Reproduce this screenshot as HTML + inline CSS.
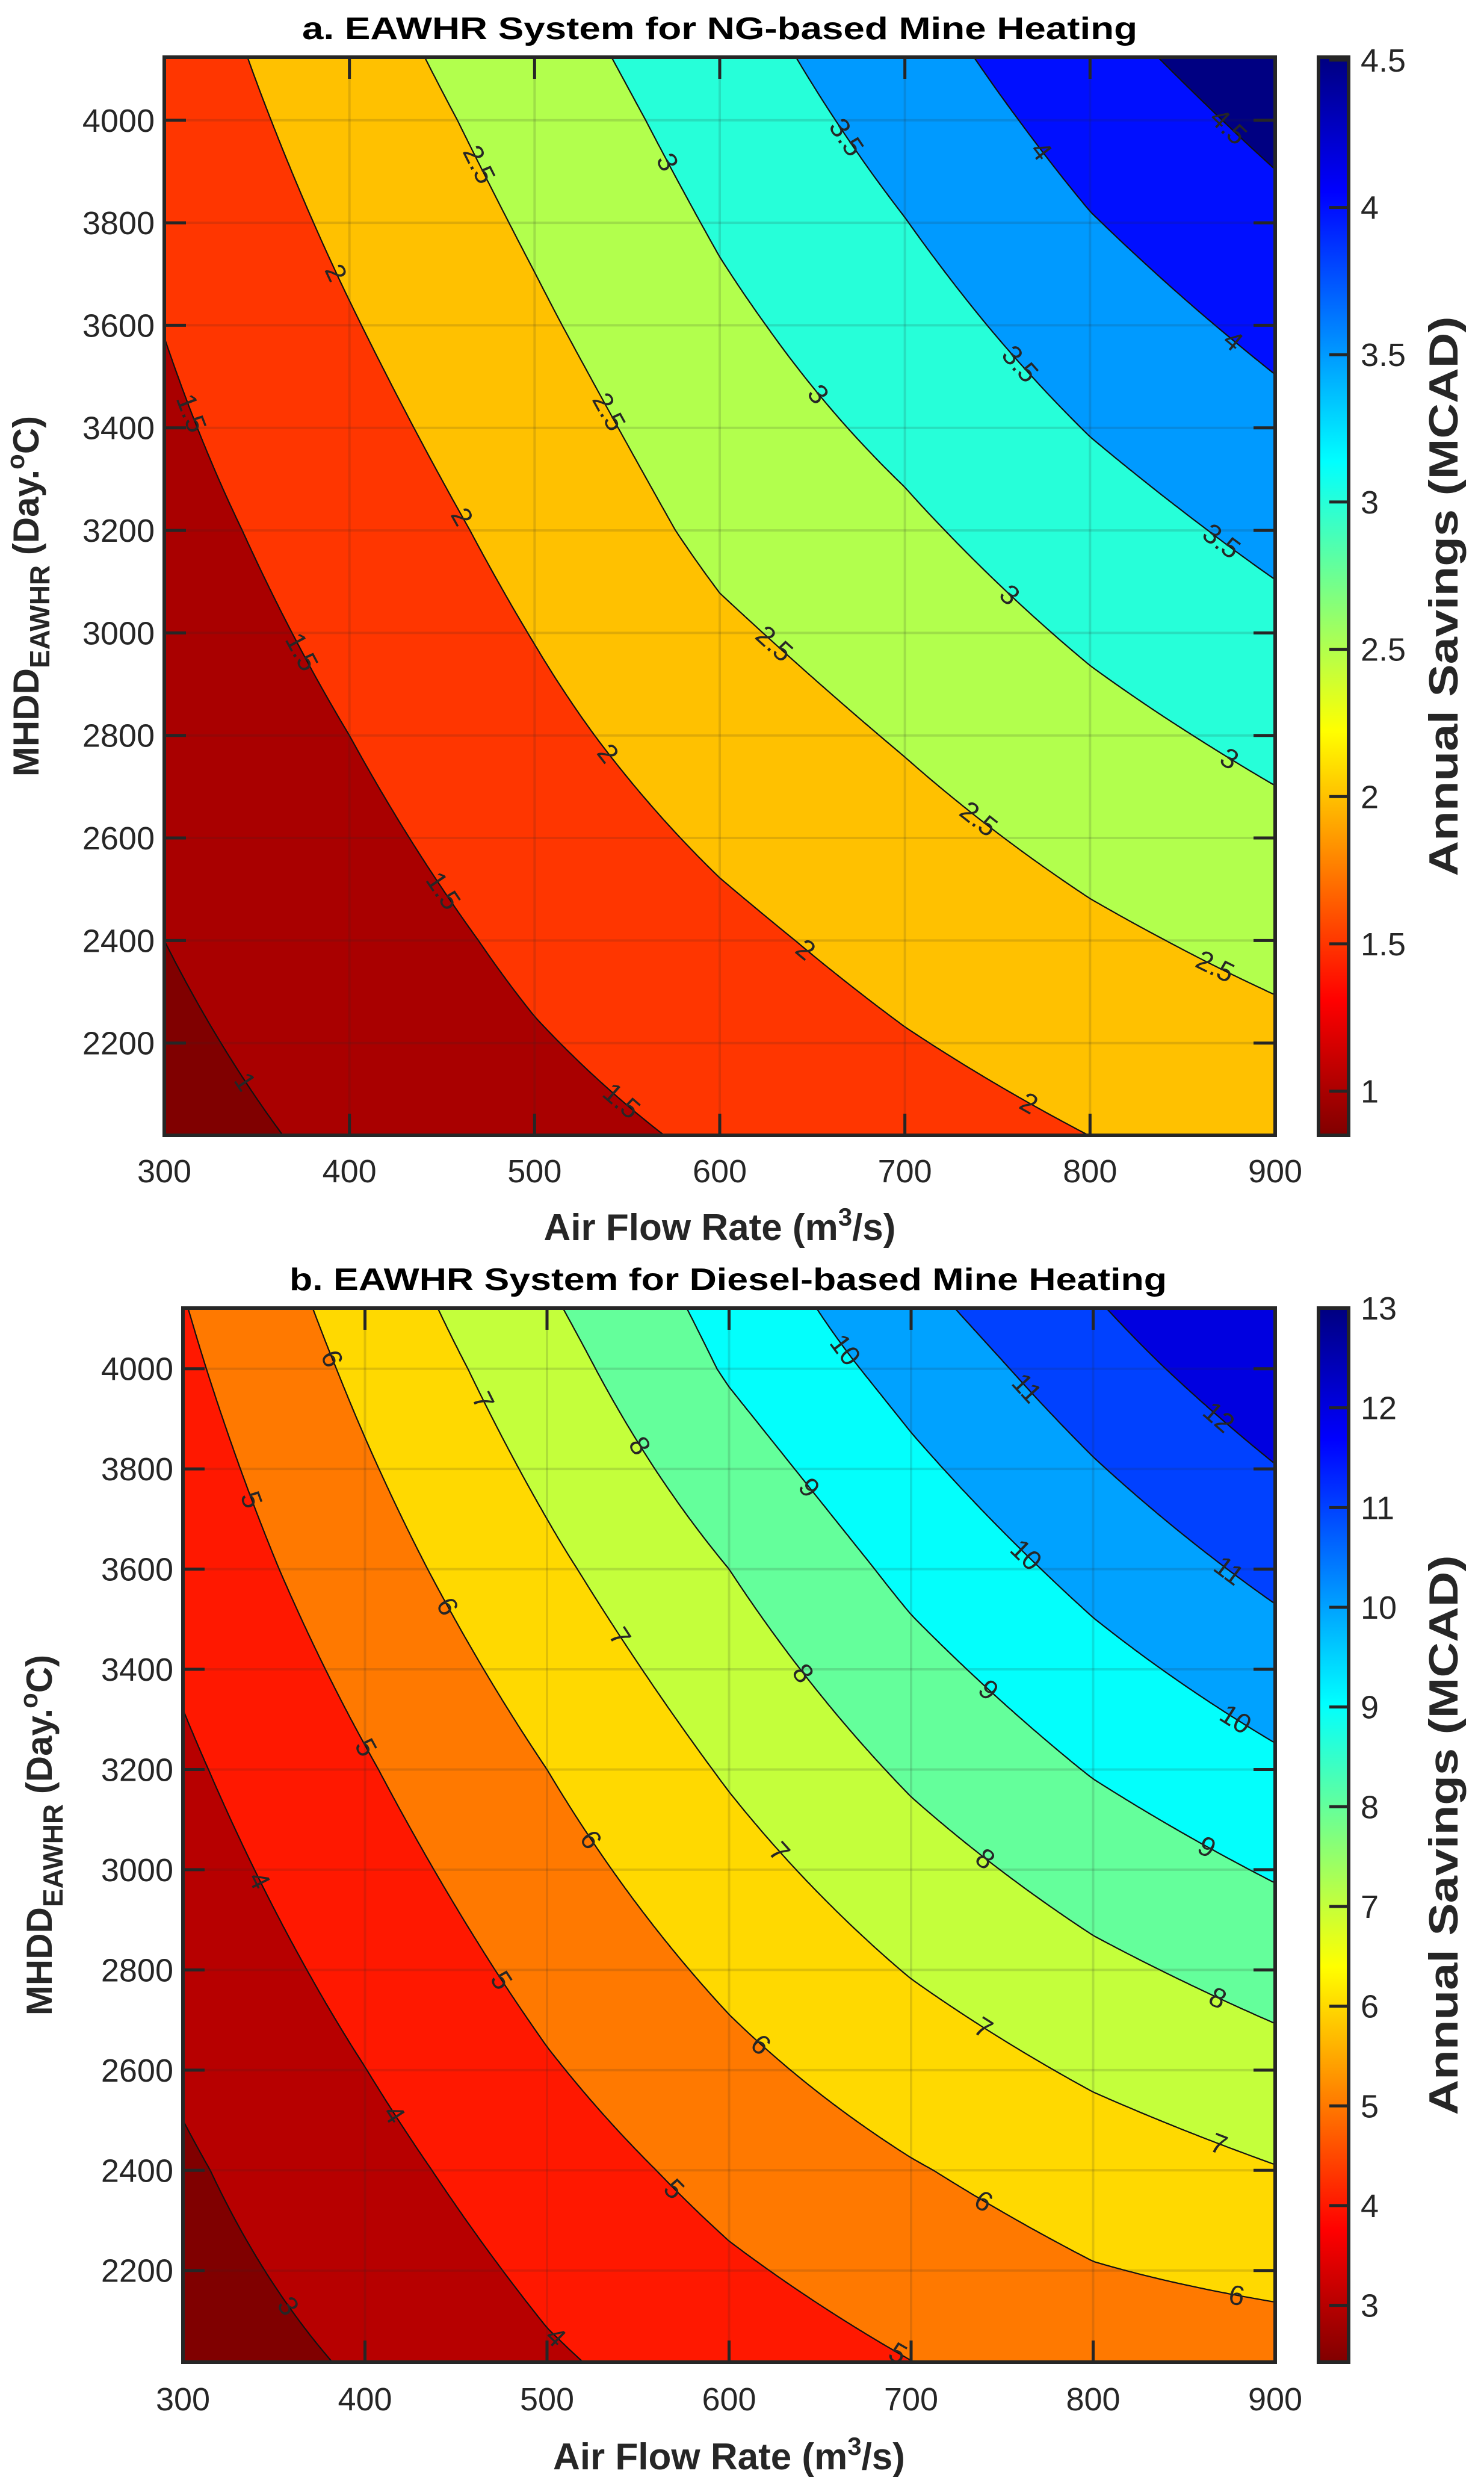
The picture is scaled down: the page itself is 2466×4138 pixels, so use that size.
<!DOCTYPE html>
<html><head><meta charset="utf-8">
<style>
html,body{margin:0;padding:0;background:#fff;}
body{width:2466px;height:4138px;position:relative;overflow:hidden;font-family:"Liberation Sans",Arial,sans-serif;}
canvas{position:absolute;}
#ov{position:absolute;left:0;top:0;}
</style></head>
<body>
<canvas id="cA"></canvas>
<canvas id="cB"></canvas>
<svg id="ov" width="2466" height="4138" xmlns="http://www.w3.org/2000/svg">
<defs>
<linearGradient id="jetr" x1="0" y1="0" x2="0" y2="1">
<stop offset="0" stop-color="rgb(0,0,128)"/><stop offset="0.125" stop-color="rgb(0,0,255)"/>
<stop offset="0.375" stop-color="rgb(0,255,255)"/><stop offset="0.625" stop-color="rgb(255,255,0)"/>
<stop offset="0.875" stop-color="rgb(255,0,0)"/><stop offset="1" stop-color="rgb(128,0,0)"/>
</linearGradient>
</defs>
<text x="1196" y="65" text-anchor="middle" font-size="52" font-weight="bold" fill="#000" textLength="1388" lengthAdjust="spacingAndGlyphs">a. EAWHR System for NG-based Mine Heating</text>
<text x="1210" y="2143" text-anchor="middle" font-size="52" font-weight="bold" fill="#000" textLength="1458" lengthAdjust="spacingAndGlyphs">b. EAWHR System for Diesel-based Mine Heating</text>
<g id="gA"></g>
<g id="gB"></g>
</svg>
<script>
// ---------- data ----------
const flowRates = [300, 400, 500, 600, 700, 800, 900];
const mhddValues = [2000, 2400, 2800, 3200, 3600, 4000, 4200];
const savingsNG = [
  [0.85, 1.07, 1.33, 1.55, 1.78, 1.98, 2.14],
  [1.00, 1.27, 1.60, 1.89, 2.16, 2.41, 2.63],
  [1.17, 1.50, 1.88, 2.25, 2.54, 2.85, 3.12],
  [1.34, 1.72, 2.15, 2.61, 2.92, 3.29, 3.62],
  [1.51, 1.97, 2.43, 2.90, 3.30, 3.75, 4.12],
  [1.70, 2.22, 2.70, 3.20, 3.68, 4.20, 4.62],
  [1.79, 2.35, 2.85, 3.35, 3.87, 4.43, 4.87]
];
const savingsDiesel = [
  [2.50, 3.08, 3.85, 4.45, 4.95, 5.40, 5.50],
  [2.88, 3.68, 4.55, 5.30, 5.93, 6.50, 6.96],
  [3.36, 4.30, 5.28, 6.20, 7.05, 7.78, 8.38],
  [3.85, 4.92, 6.00, 7.10, 8.15, 9.06, 9.81],
  [4.35, 5.58, 6.80, 8.00, 9.25, 10.30, 11.25],
  [4.82, 6.22, 7.60, 9.10, 10.35, 11.55, 12.68],
  [5.05, 6.55, 8.05, 9.50, 10.95, 12.15, 13.40]
];
const levelsNG = [1, 1.5, 2, 2.5, 3, 3.5, 4, 4.5];
const levelsDiesel = [3, 4, 5, 6, 7, 8, 9, 10, 11, 12];
const xTickLabels = ["300", "400", "500", "600", "700", "800", "900"];
const yTickLabels = ["2200", "2400", "2600", "2800", "3000", "3200", "3400", "3600", "3800", "4000"];
const cbarTicksNG = ["1", "1.5", "2", "2.5", "3", "3.5", "4", "4.5"];
const cbarTicksDiesel = ["3", "4", "5", "6", "7", "8", "9", "10", "11", "12", "13"];
const labelsNG = [
  [1, 343, 2123], [1.5, 312, 3425], [1.5, 368, 2951], [1.5, 447, 2488], [1.5, 545, 2079],
  [2, 393, 3703], [2, 458, 3221], [2, 540, 2766], [2, 647, 2385], [2, 768, 2089],
  [2.5, 468, 3910], [2.5, 540, 3431], [2.5, 631, 2985], [2.5, 739, 2633], [2.5, 867, 2345],
  [3, 569, 3913], [3, 653, 3465], [3, 756, 3072], [3, 874, 2747],
  [3.5, 667, 3963], [3.5, 763, 3527], [3.5, 870, 3174],
  [4, 774, 3941], [4, 876, 3564], [4.5, 873, 3981]
];
const labelsDiesel = [
  [3, 357, 2127], [4, 337, 2970], [4, 411, 2500], [4, 509, 2083],
  [5, 335, 3735], [5, 393, 3229], [5, 472, 2772], [5, 571, 2367], [5, 697, 2061],
  [6, 377, 4013], [6, 438, 3511], [6, 517, 3043], [6, 616, 2645], [6, 740, 2339], [6, 879, 2153],
  [7, 458, 3924], [7, 531, 3444], [7, 625, 3027], [7, 740, 2686], [7, 868, 2443],
  [8, 545, 3833], [8, 631, 3365], [8, 740, 3018], [8, 868, 2740],
  [9, 640, 3751], [9, 741, 3353], [9, 863, 3049],
  [10, 658, 4022], [10, 762, 3624], [10, 877, 3293],
  [11, 759, 3946], [11, 875, 3599], [12, 868, 3899]
];

const NS = "http://www.w3.org/2000/svg";
function clamp(v){return Math.max(0,Math.min(1,v));}
function jet(t){return [clamp(1.5-Math.abs(4*t-3)),clamp(1.5-Math.abs(4*t-2)),clamp(1.5-Math.abs(4*t-1))];}
function interp(Z,x,y){
  x=Math.max(flowRates[0],Math.min(flowRates[flowRates.length-1],x));
  y=Math.max(mhddValues[0],Math.min(mhddValues[mhddValues.length-1],y));
  let i=0;while(i<flowRates.length-2&&x>flowRates[i+1])i++;
  let j=0;while(j<mhddValues.length-2&&y>mhddValues[j+1])j++;
  const u=(x-flowRates[i])/(flowRates[i+1]-flowRates[i]);
  const v=(y-mhddValues[j])/(mhddValues[j+1]-mhddValues[j]);
  return Z[j][i]*(1-u)*(1-v)+Z[j][i+1]*u*(1-v)+Z[j+1][i]*(1-u)*v+Z[j+1][i+1]*u*v;
}
function mk(tag,parent,attrs){const e=document.createElementNS(NS,tag);for(const k in attrs)e.setAttribute(k,attrs[k]);parent.appendChild(e);return e;}

function drawChart(cfg){
  const g=document.getElementById(cfg.g);
  const L=cfg.left,T=cfg.top,W=cfg.right-cfg.left,H=cfg.bottom-cfg.top;
  const sx=x=>L+(x-300)/600*W;
  const sy=y=>T+(cfg.ymax-y)/(cfg.ymax-cfg.ymin)*H;
  const ix=px=>300+(px-L)/W*600;
  const iy=py=>cfg.ymax-(py-T)/H*(cfg.ymax-cfg.ymin);
  const col=v=>jet(1-clamp((v-cfg.cmin)/(cfg.cmax-cfg.cmin)));
  const bandCols=[col(cfg.cmin)].concat(cfg.levels.map(col)).map(c=>c.map(q=>Math.round(q*255)));
  const cv=document.getElementById(cfg.canvas);
  cv.width=W;cv.height=H;cv.style.left=L+"px";cv.style.top=T+"px";
  const ctx=cv.getContext("2d");const img=ctx.createImageData(W,H);const d=img.data;
  for(let py=0;py<H;py++){const yv=iy(T+py+0.5);
    for(let px=0;px<W;px++){const z=interp(cfg.Z,ix(L+px+0.5),yv);
      let b=0;while(b<cfg.levels.length&&z>=cfg.levels[b])b++;
      const c=bandCols[b];const o=(py*W+px)*4;d[o]=c[0];d[o+1]=c[1];d[o+2]=c[2];d[o+3]=255;}}
  ctx.putImageData(img,0,0);
  const N=260,M=260;const vals=[];
  for(let j=0;j<=M;j++){vals.push([]);for(let i=0;i<=N;i++)vals[j].push(interp(cfg.Z,ix(L+i*W/N),iy(T+j*H/M)));}
  let path="";
  for(const lv of cfg.levels){
    for(let j=0;j<M;j++)for(let i=0;i<N;i++){
      const x0=L+i*W/N,x1=L+(i+1)*W/N,y0=T+j*H/M,y1=T+(j+1)*H/M;
      const a=vals[j][i],b=vals[j][i+1],c=vals[j+1][i+1],e=vals[j+1][i];
      const pts=[];
      if((a-lv)*(b-lv)<0){const t=(lv-a)/(b-a);pts.push([x0+t*(x1-x0),y0]);}
      if((b-lv)*(c-lv)<0){const t=(lv-b)/(c-b);pts.push([x1,y0+t*(y1-y0)]);}
      if((e-lv)*(c-lv)<0){const t=(lv-e)/(c-e);pts.push([x0+t*(x1-x0),y1]);}
      if((a-lv)*(e-lv)<0){const t=(lv-a)/(e-a);pts.push([x0,y0+t*(y1-y0)]);}
      for(let k=0;k+1<pts.length;k+=2)path+="M"+pts[k][0].toFixed(1)+" "+pts[k][1].toFixed(1)+"L"+pts[k+1][0].toFixed(1)+" "+pts[k+1][1].toFixed(1);
    }
  }
  const cl=mk("path",g,{d:path,stroke:"#111",fill:"none","stroke-width":"2.2"});
  
  
  for(let k=0;k<xTickLabels.length;k++){const x=sx(+xTickLabels[k]);
    const gl=mk("line",g,{x1:x,x2:x,y1:T,y2:T+H,stroke:"#262626","stroke-opacity":"0.15","stroke-width":"4"});
    
    }
  for(let k=0;k<yTickLabels.length;k++){const y=sy(+yTickLabels[k]);
    const gl=mk("line",g,{x1:L,x2:L+W,y1:y,y2:y,stroke:"#262626","stroke-opacity":"0.15","stroke-width":"4"});
    
    }
  const gz=(px,py)=>interp(cfg.Z,ix(px),iy(py));
  for(const lb of cfg.labels){
    let px=sx(lb[1]),py=sy(lb[2]);
    for(let it=0;it<8;it++){const z=gz(px,py);const gx=(gz(px+2,py)-gz(px-2,py))/4,gy=(gz(px,py+2)-gz(px,py-2))/4;
      const n2=gx*gx+gy*gy;if(n2<1e-12)break;const s=(lb[0]-z)/n2;px+=s*gx;py+=s*gy;}
    const gx=(gz(px+2,py)-gz(px-2,py)),gy=(gz(px,py+2)-gz(px,py-2));
    let ang=Math.atan2(gx,-gy)*180/Math.PI;if(ang>90)ang-=180;if(ang<-90)ang+=180;
    const t=mk("text",g,{x:px.toFixed(1),y:(py+16).toFixed(1),"text-anchor":"middle","font-size":"46",fill:"#262626",transform:"rotate("+ang.toFixed(1)+" "+px.toFixed(1)+" "+py.toFixed(1)+")"});
    t.textContent=String(lb[0]);
    
    
  }
  const bx=mk("rect",g,{x:L,y:T,width:W,height:H,fill:"none",stroke:"#262626","stroke-width":"6"});
  
  
  for(let k=0;k<xTickLabels.length;k++){const x=sx(+xTickLabels[k]);
    const tk=mk("path",g,{d:"M"+x+" "+(T+H)+"v-36M"+x+" "+T+"v36",stroke:"#262626","stroke-width":"5"});
    
    
    const tl=mk("text",g,{x:x,y:cfg.xTickY,"text-anchor":"middle","font-size":"54",fill:"#262626"});
    tl.textContent=xTickLabels[k];
    
    }
  for(let k=0;k<yTickLabels.length;k++){const y=sy(+yTickLabels[k]);
    const tk=mk("path",g,{d:"M"+L+" "+y+"h36M"+(L+W)+" "+y+"h-36",stroke:"#262626","stroke-width":"5"});
    
    
    const tl=mk("text",g,{x:L-16,y:y+19,"text-anchor":"end","font-size":"54",fill:"#262626"});
    tl.textContent=yTickLabels[k];
    
    }
  const cx=cfg.cbLeft,cw=50;
  const cb=mk("rect",g,{x:cx,y:T,width:cw,height:H,fill:"url(#jetr)",stroke:"#262626","stroke-width":"6"});
  
  
  const cy=v=>T+(cfg.cmax-v)/(cfg.cmax-cfg.cmin)*H;
  for(let k=0;k<cfg.cbTicks.length;k++){const y=cy(+cfg.cbTicks[k]);
    const tk=mk("path",g,{d:"M"+(cx+cw)+" "+y+"h-32",stroke:"#262626","stroke-width":"5"});
    
    
    const tl=mk("text",g,{x:cx+cw+20,y:y+19,"font-size":"54",fill:"#262626"});
    tl.textContent=cfg.cbTicks[k];
    
    }
  const xl=mk("text",g,{x:(L+L+W)/2,y:cfg.xLabelY,"text-anchor":"middle","font-size":"62","font-weight":"bold",fill:"#262626"});
  xl.innerHTML='Air Flow Rate (m<tspan dy="-24" font-size="42">3</tspan><tspan dy="24">/s)</tspan>';
  
  
  const yc=T+H/2;
  const yl=mk("text",g,{x:cfg.yLabelX,y:yc,"text-anchor":"middle","font-size":"60","font-weight":"bold",fill:"#262626",transform:"rotate(-90 "+cfg.yLabelX+" "+yc+")"});
  yl.innerHTML='MHDD<tspan dy="18" font-size="46">EAWHR</tspan><tspan dy="-18"> (Day.</tspan><tspan dy="-24" font-size="42">o</tspan><tspan dy="24">C)</tspan>';
  
  
  const cbl=mk("text",g,{x:2422,y:yc,"text-anchor":"middle","font-size":"68","font-weight":"bold",fill:"#262626",transform:"rotate(-90 2422 "+yc+")",textLength:"930",lengthAdjust:"spacingAndGlyphs"});
  cbl.textContent="Annual Savings (MCAD)";
  
  
}

drawChart({g:"gA",canvas:"cA",Z:savingsNG,levels:levelsNG,labels:labelsNG,cbTicks:cbarTicksNG,
  left:273,right:2119,top:95,bottom:1886,ymin:2020,ymax:4123,cmin:0.85,cmax:4.51,
  cbLeft:2191,xTickY:1964,xLabelY:2060,yLabelX:64});
drawChart({g:"gB",canvas:"cB",Z:savingsDiesel,levels:levelsDiesel,labels:labelsDiesel,cbTicks:cbarTicksDiesel,
  left:304,right:2119,top:2173,bottom:3924,ymin:2017,ymax:4121,cmin:2.43,cmax:13.0,
  cbLeft:2191,xTickY:4004,xLabelY:4102,yLabelX:86});
</script>
</body></html>
